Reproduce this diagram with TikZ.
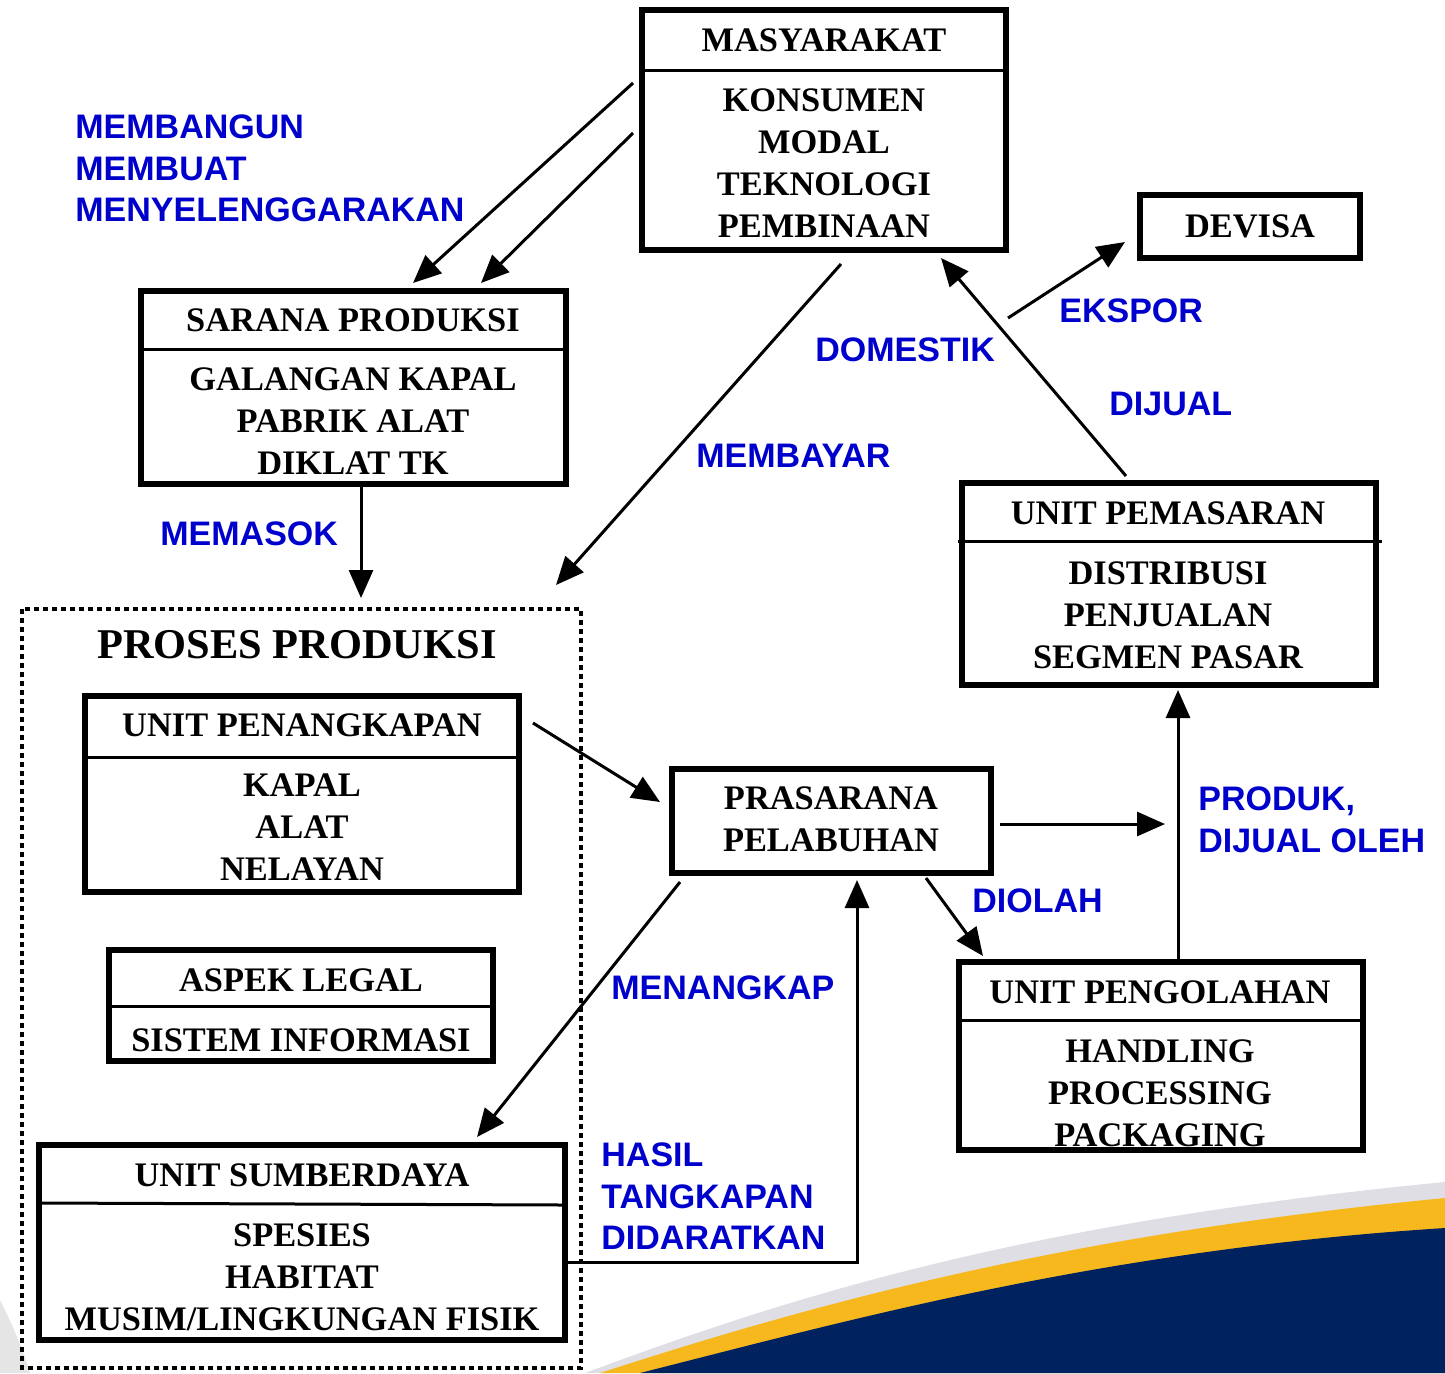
\documentclass[tikz,border=0pt]{standalone}
\usepackage{fontspec}
\setmainfont{Liberation Serif}
\newfontfamily\lblfont{Liberation Sans}
\usetikzlibrary{arrows.meta}
\definecolor{lblblue}{RGB}{0,0,204}
\definecolor{navy}{RGB}{0,34,94}
\definecolor{gold}{RGB}{247,184,30}
\definecolor{swgray}{RGB}{222,222,228}
\begin{document}
\begin{tikzpicture}[x=0.5pt,y=-0.5pt,
 box/.style={draw, line width=2.6pt, inner sep=0pt},
 ttl/.style={font=\bfseries\fontsize{17.2}{21}\selectfont, align=center, inner sep=0pt},
 lbl/.style={font=\lblfont\bfseries\fontsize{17}{20.75}\selectfont, text=lblblue, align=left, anchor=west, inner sep=0pt},
 arr/.style={line width=1.5pt, -{Triangle[length=14pt,width=12pt]}},
 divl/.style={line width=1.5pt}]
\useasboundingbox (0,0) rectangle (1445,1373);
% background swoosh
\fill[swgray] (585,1373) .. controls (800,1293) and (1030,1222) .. (1445,1182) -- (1445,1373) -- cycle;
\fill[gold] (600,1373) .. controls (810,1305) and (1060,1235) .. (1445,1198) -- (1445,1373) -- cycle;
\fill[navy] (640,1373) .. controls (850,1320) and (1100,1250) .. (1445,1228) -- (1445,1373) -- cycle;
\fill[black!10] (0,1300) .. controls (15,1330) and (25,1355) .. (30,1373) -- (0,1373) -- cycle;

% MASYARAKAT
\node[box, minimum width=182pt, minimum height=120pt] (mas) at (824,130) {};
\draw[divl] (642,70) -- (1006,70);
\node[ttl] (masT) at (824,40) {MASYARAKAT};
\node[ttl] (masB) at (824,163) {KONSUMEN\\MODAL\\TEKNOLOGI\\PEMBINAAN};

% DEVISA
\node[box, minimum width=110pt, minimum height=31.5pt] (dev) at (1250,226.5) {};
\node[ttl] (devT) at (1250,226.5) {DEVISA};

% SARANA PRODUKSI
\node[box, minimum width=212.5pt, minimum height=96.5pt] (sar) at (353.5,387.5) {};
\draw[divl] (141,349) -- (566,349);
\node[ttl] (sarT) at (353,320) {SARANA PRODUKSI};
\node[ttl] (sarB) at (353,421.5) {GALANGAN KAPAL\\PABRIK ALAT\\DIKLAT TK};

% PROSES PRODUKSI dotted frame
\draw[line width=2.4pt, dash pattern=on 2.3pt off 2.2pt] (22,609) rectangle (581,1368);
\node[font=\bfseries\fontsize{21.2}{25}\selectfont, inner sep=0pt] (pp) at (297,645) {PROSES PRODUKSI};

% UNIT PENANGKAPAN
\node[box, minimum width=217pt, minimum height=98pt] (pen) at (302,794) {};
\draw[divl] (85,757) -- (519,757);
\node[ttl] (penT) at (302,725) {UNIT PENANGKAPAN};
\node[ttl] (penB) at (302,827.5) {KAPAL\\ALAT\\NELAYAN};

% ASPEK LEGAL
\node[box, minimum width=192pt, minimum height=55.5pt] (asp) at (301,1005.5) {};
\draw[divl] (109,1006) -- (493,1006);
\node[ttl] (aspT) at (301,980) {ASPEK LEGAL};
\node[ttl] (aspB) at (301,1040) {SISTEM INFORMASI};

% UNIT SUMBERDAYA
\node[box, minimum width=263pt, minimum height=97.5pt] (sum) at (302,1242.5) {};
\draw[divl] (39,1203) -- (565,1205);
\node[ttl] (sumT) at (302,1175) {UNIT SUMBERDAYA};
\node[ttl] (sumB) at (302,1277) {SPESIES\\HABITAT\\MUSIM/LINGKUNGAN FISIK};

% PRASARANA PELABUHAN
\node[box, minimum width=159.5pt, minimum height=52pt] (pra) at (831.5,821) {};
\node[ttl] (praT) at (831,819) {PRASARANA\\PELABUHAN};

% UNIT PEMASARAN
\node[box, minimum width=207pt, minimum height=101pt] (pem) at (1169,584) {};
\draw[divl] (958,541) -- (1382,541);
\node[ttl] (pemT) at (1168,513) {UNIT PEMASARAN};
\node[ttl] (pemB) at (1168,615) {DISTRIBUSI\\PENJUALAN\\SEGMEN PASAR};

% UNIT PENGOLAHAN
\node[box, minimum width=202pt, minimum height=94pt] (pgl) at (1161,1056) {};
\draw[divl] (959,1020) -- (1363,1020);
\node[ttl] (pglT) at (1160,992) {UNIT PENGOLAHAN};
\node[ttl] (pglB) at (1160,1093.5) {HANDLING\\PROCESSING\\PACKAGING};

% connector end points
\coordinate (a1s) at (633,83);   \coordinate (a1e) at (413,283);
\coordinate (a2s) at (633,133);  \coordinate (a2e) at (481,283);
\coordinate (a3s) at (841,264);  \coordinate (a3e) at (556,585);
\coordinate (a4e) at (361,598);
\coordinate (a5s) at (1126,476); \coordinate (a5e) at (941,258);
\coordinate (a6s) at (1008,318); \coordinate (a6e) at (1125,242);
\coordinate (a7s) at (533,723);  \coordinate (a7e) at (660,802);
\coordinate (a8s) at (1000,824); \coordinate (a8e) at (1165,824);
\coordinate (a9s) at (926,878);  \coordinate (a9e) at (983,956);
\coordinate (a10e) at (1178,690);
\coordinate (a11s) at (680,882); \coordinate (a11e) at (477,1137);
\coordinate (a12c) at (857,1262); \coordinate (a12e) at (857,880);

\draw[arr] (a1s) -- (a1e);
\draw[arr] (a2s) -- (a2e);
\draw[arr] (a3s) -- (a3e);
\draw[arr] (sar.south -| a4e) -- (a4e);
\draw[arr] (a5s) -- (a5e);
\draw[arr] (a6s) -- (a6e);
\draw[arr] (a7s) -- (a7e);
\draw[arr] (a8s) -- (a8e);
\draw[arr] (a9s) -- (a9e);
\draw[arr] (pgl.north -| a10e) -- (a10e);
\draw[arr] (a11s) -- (a11e);
\draw[arr] (sum.east |- a12c) -- (a12c) -- (a12e);

% blue labels
\node[lbl] (l1) at (75,168.5) {MEMBANGUN\\MEMBUAT\\MENYELENGGARAKAN};
\node[lbl] (l2) at (160,534) {MEMASOK};
\node[lbl] (l3) at (696,456) {MEMBAYAR};
\node[lbl] (l4) at (815,350) {DOMESTIK};
\node[lbl] (l5) at (1059,311) {EKSPOR};
\node[lbl] (l6) at (1109,404) {DIJUAL};
\node[lbl] (l7) at (1198,820) {PRODUK,\\DIJUAL OLEH};
\node[lbl] (l8) at (972,901) {DIOLAH};
\node[lbl] (l9) at (611,988) {MENANGKAP};
\node[lbl] (l10) at (601,1196.5) {HASIL\\TANGKAPAN\\DIDARATKAN};
\end{tikzpicture}
\end{document}
